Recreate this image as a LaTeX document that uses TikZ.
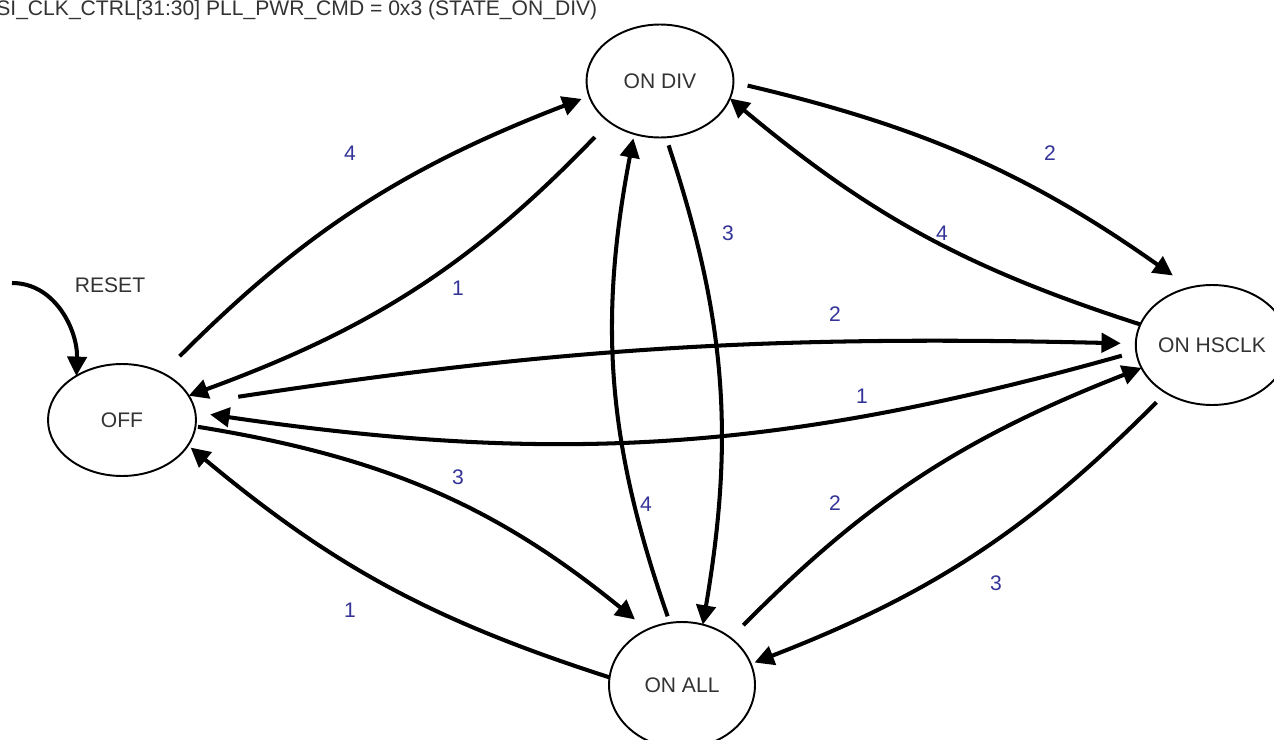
\documentclass[tikz,border=0pt]{standalone}
\usepackage{fontspec}
\setmainfont{Liberation Sans}
\usetikzlibrary{arrows.meta,shapes.geometric}
\definecolor{statetext}{RGB}{51,51,51}
\definecolor{edgeblue}{RGB}{51,51,153}
\tikzset{
  fsmstate/.style={draw, ellipse, line width=1.1pt, inner sep=0pt, outer sep=0pt, font=\fontsize{12}{14}\selectfont, text=statetext},
  fsmarrow/.style={-{Triangle[length=11pt,width=11pt]}, line width=2.3pt},
  fsmlabel/.style={font=\fontsize{12}{14}\selectfont, text=edgeblue, inner sep=1pt},
  fsmtitle/.style={font=\fontsize{12}{14}\selectfont, text=statetext, inner sep=0pt}
}

\begin{document}
\begin{tikzpicture}[x=0.02cm, y=-0.02cm]
\clip (0,0) rectangle (1274,740);
\node[fsmtitle, anchor=base west] (title) at (-4,16) {SI\_CLK\_CTRL[31:30] PLL\_PWR\_CMD = 0x3 (STATE\_ON\_DIV)};
% states
\node[fsmstate, minimum width=2.96cm, minimum height=2.24cm] (off) at (122,420) {OFF};
\node[fsmstate, minimum width=2.94cm, minimum height=2.26cm] (ondiv) at (660,81) {ON DIV};
\node[fsmstate, minimum width=2.88cm, minimum height=2.4cm] (onhsclk) at (1212,345) {ON HSCLK};
\node[fsmstate, minimum width=2.92cm, minimum height=2.52cm] (onall) at (682,685) {ON ALL};
% reset entry
\coordinate (rststart) at (12,283);
\node[fsmtitle] (reset) at (110,285) {RESET};
\draw[fsmarrow] (rststart) to[out=0, in=88] (off.136);
% transitions
\draw[fsmarrow, bend left=12, shorten <=4.8mm, shorten >=1.6mm] (off.49) to (ondiv.192);
\draw[fsmarrow, bend left=13, shorten <=4.2mm] (ondiv.219) to (off.20);
\draw[fsmarrow, bend left=11, shorten <=2.9mm, shorten >=4.2mm] (ondiv.-1) to (onhsclk.111);
\draw[fsmarrow, bend left=11] (onhsclk.164) to (ondiv.-14);
\draw[fsmarrow, bend left=5, shorten <=9.2mm, shorten >=3mm] (off.13) to (onhsclk.179);
\draw[fsmarrow, bend left=12, shorten <=3mm, shorten >=3mm] (onhsclk.185) to (off.6);
\draw[fsmarrow, bend left=15, shorten <=0.5mm, shorten >=3.2mm] (off.-5) to (onall.122);
\draw[fsmarrow, bend left=11, shorten >=0.7mm] (onall.174) to (off.-21);
\draw[fsmarrow, bend left=14, shorten <=1.7mm] (ondiv.-84) to (onall.71);
\draw[fsmarrow, bend left=15, shorten <=1.4mm, shorten >=0.9mm] (onall.101) to (ondiv.244);
\draw[fsmarrow, bend left=12, shorten <=3.6mm] (onall.44) to (onhsclk.198);
\draw[fsmarrow, bend left=12, shorten <=2.7mm, shorten >=0.8mm] (onhsclk.226) to (onall.17);
% transition labels
\node[fsmlabel] (lab4a) at (350,153) {4};
\node[fsmlabel] (lab1a) at (458,288) {1};
\node[fsmlabel] (lab2a) at (1050,153) {2};
\node[fsmlabel] (lab4b) at (942,233) {4};
\node[fsmlabel] (lab2b) at (835,314) {2};
\node[fsmlabel] (lab1b) at (862,396) {1};
\node[fsmlabel] (lab3a) at (458,477) {3};
\node[fsmlabel] (lab1c) at (350,610) {1};
\node[fsmlabel] (lab3b) at (728,233) {3};
\node[fsmlabel] (lab4c) at (646,504) {4};
\node[fsmlabel] (lab2c) at (835,503) {2};
\node[fsmlabel] (lab3c) at (996,583) {3};
\end{tikzpicture}
\end{document}
